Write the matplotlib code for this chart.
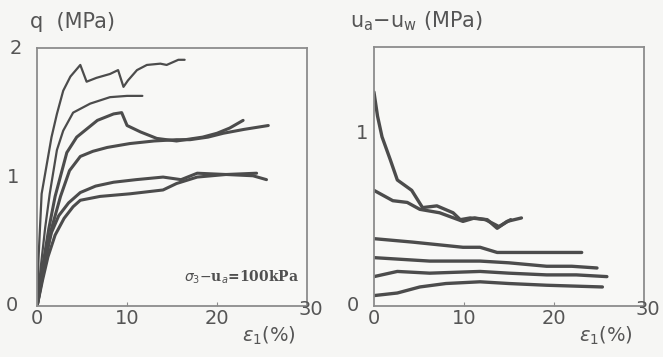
import matplotlib
matplotlib.use("Agg")
import matplotlib.pyplot as plt
import matplotlib.transforms as mtransforms

# deviator stress q (MPa) vs axial strain (%)
q1_x = [0, 0.15, 0.5, 1.1, 1.6, 2.2, 2.9, 3.7, 4.8, 5.5, 6.6, 8.1, 9.0, 9.6, 10.1, 11.1, 12.2, 13.7, 14.4, 15.7, 16.4]
q1_y = [0, 0.36, 0.87, 1.11, 1.31, 1.49, 1.67, 1.78, 1.87, 1.74, 1.77, 1.80, 1.83, 1.70, 1.75, 1.83, 1.87, 1.88, 1.87, 1.91, 1.91]
q2_x = [0, 0.4, 0.9, 1.4, 2.2, 2.9, 4.0, 5.9, 8.1, 10.0, 11.7]
q2_y = [0, 0.30, 0.61, 0.87, 1.21, 1.36, 1.50, 1.57, 1.62, 1.63, 1.63]
q3_x = [0, 0.6, 1.3, 2.0, 3.3, 4.4, 6.7, 8.5, 9.4, 10.0, 11.5, 13.3, 15.5, 18.4, 20.0, 21.4, 22.9]
q3_y = [0, 0.30, 0.60, 0.85, 1.19, 1.31, 1.44, 1.49, 1.50, 1.40, 1.35, 1.30, 1.28, 1.31, 1.34, 1.38, 1.44]
q4_x = [0, 0.8, 1.6, 2.6, 3.6, 4.8, 6.2, 7.8, 10.3, 13.0, 15.5, 17.0, 19.0, 20.7, 23.0, 25.7]
q4_y = [0, 0.30, 0.60, 0.85, 1.05, 1.16, 1.20, 1.23, 1.26, 1.28, 1.29, 1.29, 1.31, 1.34, 1.37, 1.40]
q5_x = [0, 0.5, 1.0, 1.6, 2.4, 3.5, 4.8, 6.5, 8.5, 11.0, 14.0, 16.0, 17.8, 21.0, 24.0, 25.5]
q5_y = [0, 0.20, 0.40, 0.57, 0.70, 0.80, 0.88, 0.93, 0.96, 0.98, 1.00, 0.98, 1.03, 1.02, 1.01, 0.98]
q6_x = [0, 0.6, 1.2, 2.0, 3.0, 4.0, 4.8, 7.0, 10.3, 14.0, 15.5, 17.8, 21.0, 24.4]
q6_y = [0, 0.20, 0.38, 0.55, 0.68, 0.77, 0.82, 0.85, 0.87, 0.90, 0.95, 1.00, 1.02, 1.03]
q_curves = [(q1_x, q1_y), (q2_x, q2_y), (q3_x, q3_y), (q4_x, q4_y), (q5_x, q5_y), (q6_x, q6_y)]

# matric suction ua-uw (MPa) vs axial strain (%)
s1_x = [0, 0.4, 0.9, 1.8, 2.6, 4.2, 5.4, 7.0, 8.8, 9.6, 10.7, 12.6, 13.7, 14.8, 16.4]
s1_y = [1.24, 1.10, 0.98, 0.85, 0.73, 0.67, 0.57, 0.58, 0.54, 0.50, 0.51, 0.50, 0.45, 0.49, 0.51]
s2_x = [0, 2.1, 3.7, 5.1, 7.3, 9.9, 11.2, 12.4, 13.9, 15.2]
s2_y = [0.67, 0.61, 0.60, 0.56, 0.54, 0.49, 0.51, 0.50, 0.46, 0.50]
s3_x = [0, 4.3, 9.9, 11.8, 13.7, 17.3, 20.0, 23.1]
s3_y = [0.39, 0.37, 0.34, 0.34, 0.31, 0.31, 0.31, 0.31]
s4_x = [0, 6.2, 11.8, 15.0, 19.2, 22.0, 24.8]
s4_y = [0.28, 0.26, 0.26, 0.25, 0.23, 0.23, 0.22]
s5_x = [0, 2.6, 6.2, 11.8, 15.0, 19.2, 22.5, 25.9]
s5_y = [0.17, 0.20, 0.19, 0.20, 0.19, 0.18, 0.18, 0.17]
s6_x = [0, 2.6, 5.1, 8.0, 11.8, 15.0, 19.2, 25.4]
s6_y = [0.06, 0.075, 0.11, 0.13, 0.14, 0.13, 0.12, 0.11]
s_curves = [(s1_x, s1_y), (s2_x, s2_y), (s3_x, s3_y), (s4_x, s4_y), (s5_x, s5_y), (s6_x, s6_y)]

x_ticks = [0, 10, 20, 30]
ink = "#4c4c4c"
text_col = "#555555"
frame = "#8c8c8c"

plt.rcParams["font.family"] = ["DejaVu Sans"]
fig = plt.figure(figsize=(6.63, 3.57), dpi=100, facecolor="#f6f6f4")
axL = fig.add_axes([0.056, 0.143, 0.407, 0.722])
axR = fig.add_axes([0.564, 0.143, 0.407, 0.725])


def style(ax, ymax, ylabels):
    ax.set_facecolor("#f8f8f6")
    ax.set_xlim(0, 30)
    ax.set_ylim(0, ymax)
    for s in ax.spines.values():
        s.set_color(frame)
        s.set_linewidth(1.3)
    ax.set_xticks(x_ticks[1:-1])
    ax.set_yticks([])
    ax.tick_params(direction="in", length=3, color=frame, labelbottom=False, labelleft=False)
    tb = mtransforms.blended_transform_factory(ax.transData, ax.transAxes)
    tl = mtransforms.blended_transform_factory(ax.transAxes, ax.transData)
    for v in x_ticks:
        if v == 30:
            ax.text(v + 0.4, -0.015, str(v), transform=tb, ha="center", va="center",
                    fontsize=14, color=text_col)
        else:
            ax.text(v, -0.05, str(v), transform=tb, ha="center", va="center",
                    fontsize=14, color=text_col)
    for v, xf in ylabels:
        ax.text(xf, v, str(v), transform=tl, ha="center", va="center",
                fontsize=14, color=text_col)
    ax.text(0.86, -0.115, r"$\varepsilon_1$(%)", transform=ax.transAxes, ha="center", va="center",
            fontsize=14, color=text_col)


style(axL, 2.0, [(0, -0.092), (1, -0.088), (2, -0.078)])
style(axR, 1.5, [(0, -0.078), (1, -0.045)])

for i, (x, y) in enumerate(q_curves):
    axL.plot(x, y, color=ink, lw=2.2 if i > 1 else 1.6, solid_capstyle="round")
for x, y in s_curves:
    axR.plot(x, y, color=ink, lw=2.4, solid_capstyle="round")

axL.text(-0.025, 1.10, "q  (MPa)", transform=axL.transAxes, ha="left", va="center",
         fontsize=15, color=text_col)
axR.text(-0.09, 1.10, r"u$_\mathrm{a}$$-$u$_\mathrm{w}$ (MPa)", transform=axR.transAxes,
         ha="left", va="center", fontsize=15, color=text_col)
axL.text(0.97, 0.11, r"$\sigma_3$$-$u$_a$=100kPa", transform=axL.transAxes, ha="right",
         va="center", fontsize=10, color="#505050", family="DejaVu Serif", weight="bold")

fig.savefig("out.png", dpi=100, facecolor=fig.get_facecolor())
